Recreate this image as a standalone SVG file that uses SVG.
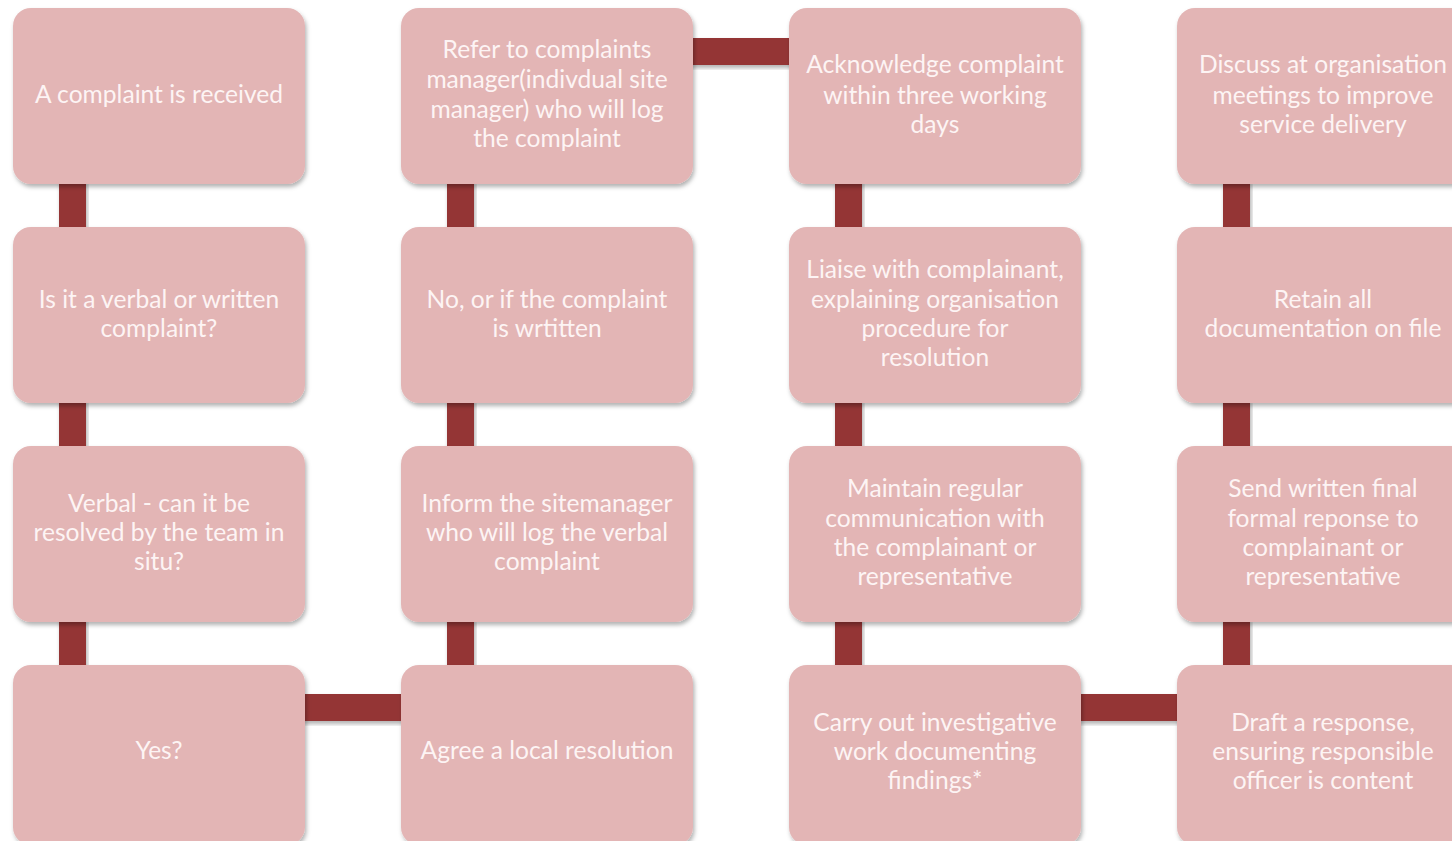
<svg xmlns="http://www.w3.org/2000/svg" width="1452" height="841" viewBox="0 0 1452 841">
<defs>
<filter id="sh" x="-10%" y="-10%" width="120%" height="125%">
<feDropShadow dx="1.5" dy="3" stdDeviation="2.2" flood-color="#000" flood-opacity="0.3"/>
</filter>
<style>
.box{fill:#e3b5b5;filter:url(#sh)}
.con{fill:#943434;filter:url(#sh)}
.t{font-family:Lato,"Open Sans","Liberation Sans",sans-serif;font-size:24.6px;fill:#fdf4f4;text-anchor:middle}
</style>
</defs>
<rect width="1452" height="841" fill="#fff"/>
<g id="connectors">
<rect class="con" x="59" y="180" width="27" height="50"/>
<rect class="con" x="59" y="399" width="27" height="50"/>
<rect class="con" x="59" y="618" width="27" height="50"/>
<rect class="con" x="447" y="180" width="27" height="50"/>
<rect class="con" x="447" y="399" width="27" height="50"/>
<rect class="con" x="447" y="618" width="27" height="50"/>
<rect class="con" x="835" y="180" width="27" height="50"/>
<rect class="con" x="835" y="399" width="27" height="50"/>
<rect class="con" x="835" y="618" width="27" height="50"/>
<rect class="con" x="1223" y="180" width="27" height="50"/>
<rect class="con" x="1223" y="399" width="27" height="50"/>
<rect class="con" x="1223" y="618" width="27" height="50"/>
<rect class="con" x="689" y="38" width="104" height="27"/>
<rect class="con" x="301" y="694" width="103" height="27"/>
<rect class="con" x="1077" y="694" width="104" height="27"/>
</g>
<g id="n1"><rect class="box" x="13" y="8" width="292" height="176" rx="18"/><text class="t" x="159" y="103">A complaint is received</text></g>
<g id="n2"><rect class="box" x="13" y="227" width="292" height="176" rx="18"/><text class="t" x="159" y="308">Is it a verbal or written</text><text class="t" x="159" y="337">complaint?</text></g>
<g id="n3"><rect class="box" x="13" y="446" width="292" height="176" rx="18"/><text class="t" x="159" y="512">Verbal - can it be</text><text class="t" x="159" y="541">resolved by the team in</text><text class="t" x="159" y="570">situ?</text></g>
<g id="n4"><rect class="box" x="13" y="665" width="292" height="180" rx="18"/><text class="t" x="159" y="759">Yes?</text></g>
<g id="n5"><rect class="box" x="401" y="8" width="292" height="176" rx="18"/><text class="t" x="547" y="58">Refer to complaints</text><text class="t" x="547" y="88">manager(indivdual site</text><text class="t" x="547" y="118">manager) who will log</text><text class="t" x="547" y="147">the complaint</text></g>
<g id="n6"><rect class="box" x="401" y="227" width="292" height="176" rx="18"/><text class="t" x="547" y="308">No, or if the complaint</text><text class="t" x="547" y="337">is wrtitten</text></g>
<g id="n7"><rect class="box" x="401" y="446" width="292" height="176" rx="18"/><text class="t" x="547" y="512">Inform the sitemanager</text><text class="t" x="547" y="541">who will log the verbal</text><text class="t" x="547" y="570">complaint</text></g>
<g id="n8"><rect class="box" x="401" y="665" width="292" height="180" rx="18"/><text class="t" x="547" y="759">Agree a local resolution</text></g>
<g id="n9"><rect class="box" x="789" y="8" width="292" height="176" rx="18"/><text class="t" x="935" y="73">Acknowledge complaint</text><text class="t" x="935" y="104">within three working</text><text class="t" x="935" y="133">days</text></g>
<g id="n10"><rect class="box" x="789" y="227" width="292" height="176" rx="18"/><text class="t" x="935" y="278">Liaise with complainant,</text><text class="t" x="935" y="308">explaining organisation</text><text class="t" x="935" y="337">procedure for</text><text class="t" x="935" y="366">resolution</text></g>
<g id="n11"><rect class="box" x="789" y="446" width="292" height="176" rx="18"/><text class="t" x="935" y="497">Maintain regular</text><text class="t" x="935" y="527">communication with</text><text class="t" x="935" y="556">the complainant or</text><text class="t" x="935" y="585">representative</text></g>
<g id="n12"><rect class="box" x="789" y="665" width="292" height="180" rx="18"/><text class="t" x="935" y="731">Carry out investigative</text><text class="t" x="935" y="760">work documenting</text><text class="t" x="935" y="789">findings*</text></g>
<g id="n13"><rect class="box" x="1177" y="8" width="292" height="176" rx="18"/><text class="t" x="1323" y="73">Discuss at organisation</text><text class="t" x="1323" y="104">meetings to improve</text><text class="t" x="1323" y="133">service delivery</text></g>
<g id="n14"><rect class="box" x="1177" y="227" width="292" height="176" rx="18"/><text class="t" x="1323" y="308">Retain all</text><text class="t" x="1323" y="337">documentation on file</text></g>
<g id="n15"><rect class="box" x="1177" y="446" width="292" height="176" rx="18"/><text class="t" x="1323" y="497">Send written final</text><text class="t" x="1323" y="527">formal reponse to</text><text class="t" x="1323" y="556">complainant or</text><text class="t" x="1323" y="585">representative</text></g>
<g id="n16"><rect class="box" x="1177" y="665" width="292" height="180" rx="18"/><text class="t" x="1323" y="731">Draft a response,</text><text class="t" x="1323" y="760">ensuring responsible</text><text class="t" x="1323" y="789">officer is content</text></g>
</svg>
